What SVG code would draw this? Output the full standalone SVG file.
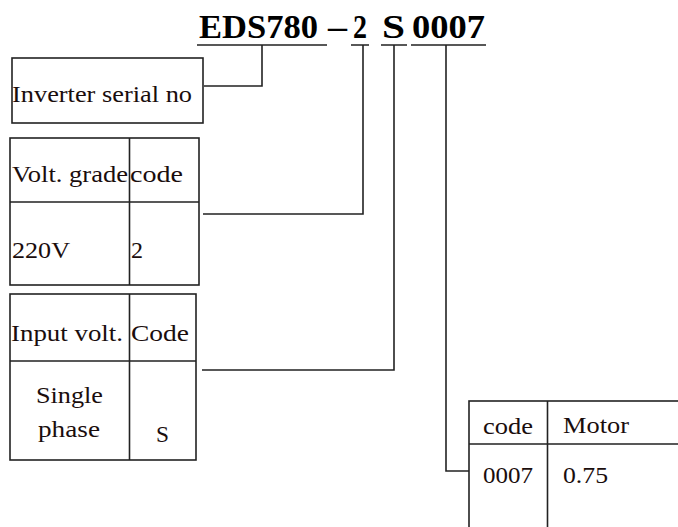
<svg xmlns="http://www.w3.org/2000/svg" width="678" height="527" viewBox="0 0 678 527">
<style>
.ln{fill:none;stroke:#222;stroke-width:1.6}
.box{fill:#fff;stroke:#222;stroke-width:1.6}
text{font-family:"Liberation Serif","Times New Roman",serif}
.t{font-size:23px;fill:#1a0d0d}
.h{font-size:33px;font-weight:bold;fill:#000}
</style>
<rect width="678" height="527" fill="#fff"/>
<g id="title">
<text class="h" x="199" y="38" textLength="119" lengthAdjust="spacingAndGlyphs">EDS780</text>
<text class="h" x="328" y="38" textLength="19" lengthAdjust="spacingAndGlyphs">–</text>
<text class="h" x="353" y="38" textLength="14" lengthAdjust="spacingAndGlyphs">2</text>
<text class="h" x="382" y="38" textLength="23" lengthAdjust="spacingAndGlyphs">S</text>
<text class="h" x="412" y="38" textLength="73" lengthAdjust="spacingAndGlyphs">0007</text>
</g>
<g id="connectors">
<path class="ln" d="M197 45H327M351 45H369M381 45H407M411 45H486"/>
<path class="ln" d="M262 45V86H204"/>
<path class="ln" d="M363 45V214H203"/>
<path class="ln" d="M394 45V370H202"/>
<path class="ln" d="M446 45V471H469"/>
</g>
<g id="serial">
<rect class="box" x="12" y="58" width="191" height="65"/>
<text class="t" x="12" y="102" textLength="180" lengthAdjust="spacingAndGlyphs">Inverter serial no</text>
</g>
<g id="voltgrade">
<rect class="box" x="10" y="138" width="189" height="147"/>
<path class="ln" d="M129.5 138V285M10 202H199"/>
<text class="t" x="12" y="182" textLength="116" lengthAdjust="spacingAndGlyphs">Volt. grade</text>
<text class="t" x="130" y="182" textLength="53" lengthAdjust="spacingAndGlyphs">code</text>
<text class="t" x="12" y="258" textLength="58" lengthAdjust="spacingAndGlyphs">220V</text>
<text class="t" x="131" y="258" textLength="12" lengthAdjust="spacingAndGlyphs">2</text>
</g>
<g id="inputvolt">
<rect class="box" x="10" y="294" width="186" height="166"/>
<path class="ln" d="M129.5 294V460M10 361H196"/>
<text class="t" x="11" y="341" textLength="112" lengthAdjust="spacingAndGlyphs">Input volt.</text>
<text class="t" x="131" y="341" textLength="58" lengthAdjust="spacingAndGlyphs">Code</text>
<text class="t" x="36" y="403" textLength="67" lengthAdjust="spacingAndGlyphs">Single</text>
<text class="t" x="38" y="437" textLength="62" lengthAdjust="spacingAndGlyphs">phase</text>
<text class="t" x="156" y="442" textLength="13" lengthAdjust="spacingAndGlyphs">S</text>
</g>
<g id="motor">
<rect class="box" x="469" y="401" width="230" height="150"/>
<path class="ln" d="M547.5 401V551M469 444H699"/>
<text class="t" x="483" y="434" textLength="50" lengthAdjust="spacingAndGlyphs">code</text>
<text class="t" x="563" y="433" textLength="66" lengthAdjust="spacingAndGlyphs">Motor</text>
<text class="t" x="483" y="483" textLength="50" lengthAdjust="spacingAndGlyphs">0007</text>
<text class="t" x="563" y="483" textLength="45" lengthAdjust="spacingAndGlyphs">0.75</text>
</g>
</svg>
